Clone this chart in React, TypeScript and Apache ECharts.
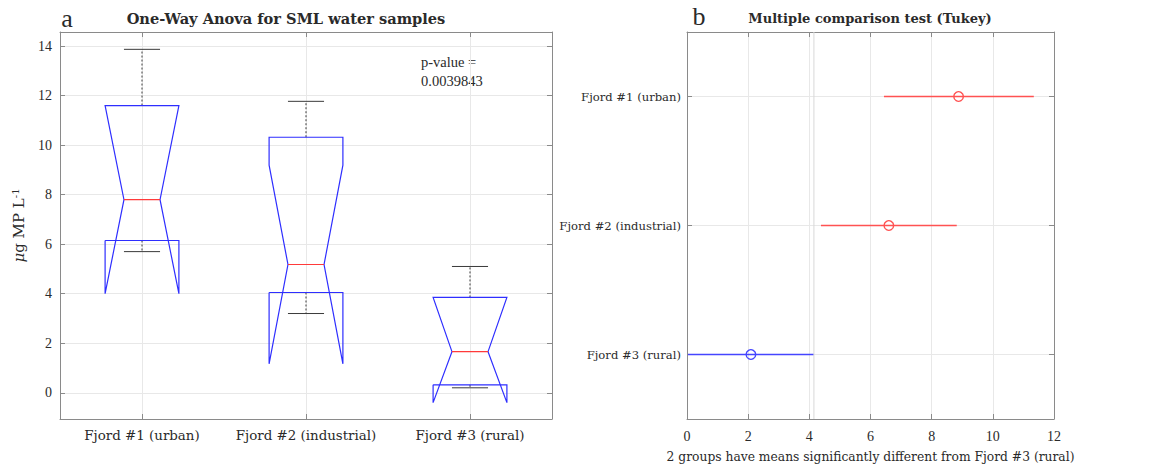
import React, { useEffect, useRef } from 'react';
import * as echarts from 'echarts';

// ---- Panel a: notched box plot data (μg MP L-1) ----
const groups = ['Fjord #1 (urban)', 'Fjord #2 (industrial)', 'Fjord #3 (rural)'];
const groupPos = [1, 2, 3];
const yTicks = [0, 2, 4, 6, 8, 10, 12, 14];
const q1 = [6.15, 4.05, 0.32];
const q3 = [11.6, 10.32, 3.85];
const medians = [7.8, 5.18, 1.66];
const notchLo = [4.0, 1.17, -0.4];
const notchHi = [11.6, 9.19, 3.85];
const whiskerLo = [5.7, 3.2, 0.2];
const whiskerHi = [13.87, 11.77, 5.1];
const pValueLines = ['p-value =', '0.0039843'];

// ---- Panel b: Tukey multiple comparison ----
const tukeyMeans = [8.88, 6.6, 2.09];
const tukeyLo = [6.44, 4.38, 0.03];
const tukeyHi = [11.34, 8.82, 4.15];
const selectedGroup = 2;
const tukeyNote = '2 groups have means significantly different from Fjord #3 (rural)';

const TFONT = 'DejaVu Serif';
const NFONT = 'Liberation Serif';
const AXIS = '#8a8a8a';
const GRID = '#e8e8e8';
const TXT = '#2a2a2a';
const BLUE = '#2e2eff';
const RED = '#ff3a3a';
const RED_B = '#ff5252';
const BLUE_B = '#4545ff';

export default function App() {
  const ref = useRef<HTMLDivElement>(null);
  useEffect(() => {
    if (!ref.current) return;
    const chart = echarts.init(ref.current, null, { renderer: 'svg' });

    const boxData = groupPos.map((p, i) => [p, q1[i], q3[i], medians[i], notchLo[i], notchHi[i], whiskerLo[i], whiskerHi[i]]);
    const tukeyData = groupPos.map((p, i) => [tukeyMeans[i], p, tukeyLo[i], tukeyHi[i]]);

    const tickCommon = { show: true, inside: true, length: 5, lineStyle: { color: AXIS } };
    const lineCommon = { show: true, onZero: false, lineStyle: { color: AXIS, width: 1 } };

    const option: any = {
      animation: false,
      grid: [
        { left: 60, right: 616, top: 32, bottom: 53 },
        { left: 687, right: 114, top: 32, bottom: 53 },
      ],
      xAxis: [
        {
          gridIndex: 0, type: 'value', min: 0.5, max: 3.5, position: 'bottom',
          axisLine: lineCommon,
          axisTick: { ...tickCommon, customValues: groupPos },
          axisLabel: { customValues: groupPos, formatter: (v: number) => groups[Math.round(v) - 1], fontFamily: TFONT, fontSize: 13.4, color: TXT, margin: 10 },
          splitLine: { show: true, lineStyle: { color: GRID } },
        },
        {
          gridIndex: 0, type: 'value', min: 0.5, max: 3.5, position: 'top',
          axisLine: lineCommon,
          axisTick: { ...tickCommon, customValues: groupPos },
          axisLabel: { show: false },
          splitLine: { show: false },
        },
        {
          gridIndex: 1, type: 'value', min: 0, max: 12, interval: 2, position: 'bottom',
          axisLine: lineCommon,
          axisTick: tickCommon,
          axisLabel: { fontFamily: NFONT, fontSize: 14, color: TXT, margin: 10 },
          splitLine: { show: true, lineStyle: { color: GRID } },
          name: tukeyNote, nameLocation: 'middle', nameGap: 32,
          nameTextStyle: { fontFamily: TFONT, fontSize: 12.3, color: TXT },
        },
        {
          gridIndex: 1, type: 'value', min: 0, max: 12, interval: 2, position: 'top',
          axisLine: lineCommon,
          axisTick: tickCommon,
          axisLabel: { show: false },
          splitLine: { show: false },
        },
      ],
      yAxis: [
        {
          gridIndex: 0, type: 'value', min: -1.06, max: 14.57, position: 'left',
          axisLine: lineCommon,
          axisTick: { ...tickCommon, customValues: yTicks },
          axisLabel: { customValues: yTicks, fontFamily: NFONT, fontSize: 14, color: TXT, margin: 8 },
          splitLine: { show: true, lineStyle: { color: GRID } },
          name: '{i|μ}g MP L{sup|-1}', nameLocation: 'middle', nameGap: 32, nameRotate: 90,
          nameTextStyle: {
            fontFamily: TFONT, fontSize: 15, color: TXT,
            rich: {
              i: { fontFamily: TFONT, fontSize: 15, fontStyle: 'italic', color: TXT },
              sup: { fontFamily: TFONT, fontSize: 10, color: TXT, padding: [0, 0, 8, 0] },
            },
          },
        },
        {
          gridIndex: 0, type: 'value', min: -1.06, max: 14.57, position: 'right',
          axisLine: lineCommon,
          axisTick: { ...tickCommon, customValues: yTicks },
          axisLabel: { show: false },
          splitLine: { show: false },
        },
        {
          gridIndex: 1, type: 'value', min: 0.5, max: 3.5, inverse: true, position: 'left',
          axisLine: lineCommon,
          axisTick: { ...tickCommon, customValues: groupPos },
          axisLabel: { customValues: groupPos, formatter: (v: number) => groups[Math.round(v) - 1], fontFamily: TFONT, fontSize: 11.6, color: TXT, margin: 6 },
          splitLine: { show: true, lineStyle: { color: GRID } },
        },
        {
          gridIndex: 1, type: 'value', min: 0.5, max: 3.5, inverse: true, position: 'right',
          axisLine: lineCommon,
          axisTick: { ...tickCommon, customValues: groupPos },
          axisLabel: { show: false },
          splitLine: { show: false },
        },
      ],
      graphic: [
        { type: 'text', x: 67, y: 18, style: { text: 'a', font: `26px "${NFONT}"`, fill: TXT, align: 'center', verticalAlign: 'middle' } },
        { type: 'text', x: 286, y: 18, style: { text: 'One-Way Anova for SML water samples', font: `bold 14.6px "${TFONT}"`, fill: TXT, align: 'center', verticalAlign: 'middle' } },
        { type: 'text', x: 699, y: 16, style: { text: 'b', font: `26px "${NFONT}"`, fill: TXT, align: 'center', verticalAlign: 'middle' } },
        { type: 'text', x: 870, y: 18, style: { text: 'Multiple comparison test (Tukey)', font: `bold 13px "${TFONT}"`, fill: TXT, align: 'center', verticalAlign: 'middle' } },
        { type: 'text', x: 421, y: 62, style: { text: pValueLines[0], font: `14.5px "${NFONT}"`, fill: TXT, align: 'left', verticalAlign: 'middle' } },
        { type: 'text', x: 421, y: 81, style: { text: pValueLines[1], font: `14.5px "${NFONT}"`, fill: TXT, align: 'left', verticalAlign: 'middle' } },
      ],
      series: [
        {
          type: 'custom',
          xAxisIndex: 0, yAxisIndex: 0,
          data: boxData,
          encode: { x: 0, y: [1, 2, 3, 4, 5, 6, 7] },
          renderItem: (params: any, api: any) => {
            const x = api.value(0);
            const px = (v: number) => api.coord([x, v]);
            const [cx, yq1] = px(api.value(1));
            const yq3 = px(api.value(2))[1];
            const ymed = px(api.value(3))[1];
            const ynl = px(api.value(4))[1];
            const ynu = px(api.value(5))[1];
            const ywl = px(api.value(6))[1];
            const ywh = px(api.value(7))[1];
            const unit = api.size([1, 0])[0];
            const w = unit * 0.225;
            const wn = unit * 0.11;
            const wc = unit * 0.11;
            const dark = '#3a3a3a';
            return {
              type: 'group',
              children: [
                { type: 'line', shape: { x1: cx, y1: yq3, x2: cx, y2: ywh }, style: { stroke: dark, lineWidth: 1, lineDash: [2, 2] } },
                { type: 'line', shape: { x1: cx, y1: yq1, x2: cx, y2: ywl }, style: { stroke: dark, lineWidth: 1, lineDash: [2, 2] } },
                { type: 'line', shape: { x1: cx - wc, y1: ywh, x2: cx + wc, y2: ywh }, style: { stroke: dark, lineWidth: 1 } },
                { type: 'line', shape: { x1: cx - wc, y1: ywl, x2: cx + wc, y2: ywl }, style: { stroke: dark, lineWidth: 1 } },
                {
                  type: 'polyline',
                  shape: {
                    points: [
                      [cx - w, yq1], [cx - w, ynl], [cx - wn, ymed], [cx - w, ynu], [cx - w, yq3],
                      [cx + w, yq3], [cx + w, ynu], [cx + wn, ymed], [cx + w, ynl], [cx + w, yq1], [cx - w, yq1],
                    ],
                  },
                  style: { stroke: BLUE, lineWidth: 1.2, fill: 'none' },
                },
                { type: 'line', shape: { x1: cx - wn, y1: ymed, x2: cx + wn, y2: ymed }, style: { stroke: RED, lineWidth: 1.2 } },
              ],
            };
          },
        },
        {
          type: 'custom',
          xAxisIndex: 2, yAxisIndex: 2,
          data: tukeyData,
          encode: { x: [0, 2, 3], y: 1 },
          renderItem: (params: any, api: any) => {
            const y = api.value(1);
            const [mx, my] = api.coord([api.value(0), y]);
            const lx = api.coord([api.value(2), y])[0];
            const hx = api.coord([api.value(3), y])[0];
            const color = params.dataIndex === selectedGroup ? BLUE_B : RED_B;
            return {
              type: 'group',
              children: [
                { type: 'line', shape: { x1: lx, y1: my, x2: hx, y2: my }, style: { stroke: color, lineWidth: 1.5 } },
                { type: 'circle', shape: { cx: mx, cy: my, r: 4.8 }, style: { stroke: color, lineWidth: 1.4, fill: 'none' } },
              ],
            };
          },
        },
        {
          type: 'line',
          xAxisIndex: 2, yAxisIndex: 2,
          data: [[tukeyHi[selectedGroup], 0.5], [tukeyHi[selectedGroup], 3.5]],
          symbol: 'none',
          lineStyle: { color: '#d8d8d8', width: 1 },
          silent: true,
        },
      ],
    };
    chart.setOption(option);
    return () => chart.dispose();
  }, []);
  return <div ref={ref} style={{ width: 1168, height: 472, position: 'absolute', left: 0, top: 0, background: '#fff' }} />;
}
